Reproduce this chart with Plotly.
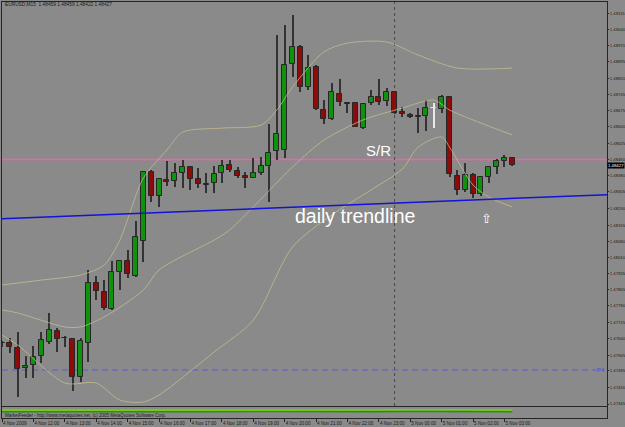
import plotly.graph_objects as go
import pandas as pd

# ---------------- data ----------------
times = pd.date_range("2009-11-04 11:00", periods=66, freq="15min")

opens = [1.47621, 1.47621, 1.47598, 1.47508, 1.47522, 1.47562, 1.47626, 1.47676, 1.47644, 1.47639,
         1.47467, 1.47621, 1.47893, 1.47852, 1.47775, 1.47943, 1.47992, 1.47924, 1.48083, 1.48395,
         1.48287, 1.48359, 1.48355, 1.48391, 1.48418, 1.48364, 1.48336, 1.48345, 1.48391, 1.48427,
         1.48400, 1.48377, 1.48368, 1.48391, 1.48422, 1.48490, 1.48495, 1.48884, 1.48961, 1.48780,
         1.48871, 1.48676, 1.48635, 1.48748, 1.48708, 1.48708, 1.48594, 1.48708, 1.48735, 1.48717,
         1.48757, 1.48667, 1.48653, 1.48646, 1.48649, 1.48685, 1.48681, 1.48735, 1.48377, 1.48314,
         1.48382, 1.48296, 1.48373, 1.48418, 1.48445, 1.48459]
highs = [1.47630, 1.47644, 1.47671, 1.47562, 1.47608, 1.47671, 1.47757, 1.47689, 1.47653, 1.47644,
         1.47644, 1.47952, 1.47924, 1.47906, 1.47992, 1.47995, 1.48042, 1.48173, 1.48400, 1.48404,
         1.48366, 1.48445, 1.48436, 1.48450, 1.48420, 1.48413, 1.48391, 1.48422, 1.48450, 1.48450,
         1.48418, 1.48395, 1.48459, 1.48463, 1.48613, 1.49016, 1.49061, 1.49106, 1.48970, 1.48925,
         1.48880, 1.48721, 1.48798, 1.48816, 1.48710, 1.48710, 1.48705, 1.48767, 1.48816, 1.48776,
         1.48760, 1.48690, 1.48662, 1.48685, 1.48721, 1.48708, 1.48744, 1.48738, 1.48404, 1.48436,
         1.48391, 1.48375, 1.48418, 1.48454, 1.48472, 1.48459]
lows = [1.47603, 1.47576, 1.47377, 1.47463, 1.47463, 1.47531, 1.47617, 1.47580, 1.47603, 1.47404,
        1.47445, 1.47535, 1.47816, 1.47771, 1.47771, 1.47861, 1.47915, 1.47920, 1.47988, 1.48259,
        1.48237, 1.48332, 1.48327, 1.48323, 1.48314, 1.48323, 1.48300, 1.48300, 1.48345, 1.48395,
        1.48368, 1.48323, 1.48366, 1.48382, 1.48259, 1.48450, 1.48459, 1.48825, 1.48757, 1.48767,
        1.48676, 1.48613, 1.48633, 1.48694, 1.48662, 1.48597, 1.48592, 1.48699, 1.48699, 1.48694,
        1.48660, 1.48644, 1.48640, 1.48572, 1.48581, 1.48594, 1.48662, 1.48373, 1.48291, 1.48305,
        1.48278, 1.48287, 1.48345, 1.48386, 1.48418, 1.48422]
closes = [1.47619, 1.47603, 1.47503, 1.47517, 1.47558, 1.47635, 1.47680, 1.47639, 1.47643, 1.47467,
          1.47630, 1.47893, 1.47857, 1.47780, 1.47943, 1.47992, 1.47934, 1.48101, 1.48395, 1.48287,
          1.48364, 1.48350, 1.48391, 1.48418, 1.48364, 1.48341, 1.48341, 1.48386, 1.48422, 1.48404,
          1.48377, 1.48368, 1.48391, 1.48422, 1.48481, 1.48567, 1.48880, 1.48961, 1.48780, 1.48866,
          1.48681, 1.48635, 1.48757, 1.48712, 1.48703, 1.48599, 1.48703, 1.48735, 1.48712, 1.48757,
          1.48662, 1.48658, 1.48644, 1.48651, 1.48685, 1.48685, 1.48735, 1.48386, 1.48314, 1.48382,
          1.48296, 1.48373, 1.48418, 1.48445, 1.48459, 1.48427]

# Bollinger bands (read at sample bars)
bb_upper_x = [0, 5, 10, 13, 15, 18, 21, 23, 28, 33, 35, 37, 41, 44, 49, 53, 58, 65]
bb_upper = [1.47884, 1.47906, 1.47929, 1.47974, 1.48087, 1.48368, 1.48495, 1.48576, 1.48594, 1.48608,
            1.48676, 1.48780, 1.48939, 1.48979, 1.48984, 1.48925, 1.48866, 1.48866]
bb_mid_x = [0, 2, 8, 10, 13, 18, 20, 27, 29, 37, 41, 46, 51, 55, 57, 61, 65]
bb_mid = [1.47771, 1.47757, 1.47694, 1.47694, 1.47739, 1.47861, 1.47952, 1.48087, 1.48133, 1.48418,
          1.48540, 1.48631, 1.48685, 1.48721, 1.48676, 1.48617, 1.48563]
bb_lower_x = [0, 2, 8, 12, 15, 18, 20, 27, 32, 37, 42, 47, 51, 53, 56, 57, 60, 62, 65]
bb_lower = [1.47657, 1.47612, 1.47440, 1.47440, 1.47363, 1.47354, 1.47386, 1.47580, 1.47725, 1.48056,
            1.48201, 1.48314, 1.48409, 1.48508, 1.48554, 1.48508, 1.48336, 1.48282, 1.48237]

sr_level = 1.48452
pivot_level = 1.47499
trend_x = [-0.2, 77.2]
trend_y = [1.48183, 1.48293]
separator_bar = 50
last_price = 1.48427

price_ticks = [1.47345, 1.47420, 1.47495, 1.47565, 1.47640, 1.47715, 1.47790, 1.47865, 1.47935,
               1.48010, 1.48080, 1.48155, 1.48230, 1.48305, 1.48380, 1.48450, 1.48525, 1.48600,
               1.48675, 1.48745, 1.48820, 1.48895, 1.48970, 1.49040, 1.49115]
price_tick_labels = [f"{v:.5f}" for v in price_ticks]

time_tick_bars = list(range(0, 66, 4))
time_tick_labels = ["4 Nov 2009"] + [f"{t.day} {t.strftime('%b %H:%M')}" for t in times[4::4]]

sub_x = [0, 8, 16, 20, 26, 36, 44, 47, 52, 58, 65]
sub_lime = [0.72, 0.70, 0.72, 0.70, 0.72, 0.72, 0.70, 0.74, 0.74, 0.74, 0.72]
sub_dark = [0.60, 0.58, 0.60, 0.56, 0.60, 0.62, 0.58, 0.60, 0.62, 0.60, 0.60]

# ---------------- styling ----------------
BG = "#8a8a8a"
GREEN = "#0f930f"
RED = "#8e0b0b"
WICK = "#333333"
BAND = "#c9c08f"
AXIS = "#262626"
DOJI = "#e8e8e8"
FONT = "Arial"

n = len(opens)
xs = list(range(n))
body_colors, wick_colors, heights = [], [], []
for o, c in zip(opens, closes):
    if c > o:
        body_colors.append(GREEN); wick_colors.append(WICK); heights.append(c - o)
    elif c < o:
        body_colors.append(RED); wick_colors.append(WICK); heights.append(c - o)
    else:
        body_colors.append(DOJI); wick_colors.append(DOJI); heights.append(0.00002)
line_colors = [AXIS if col != DOJI else DOJI for col in body_colors]

fig = go.Figure()

# bands
for bx, by in [(bb_upper_x, bb_upper), (bb_mid_x, bb_mid), (bb_lower_x, bb_lower)]:
    fig.add_trace(go.Scatter(x=bx, y=by, mode="lines", line=dict(color=BAND, width=1, shape="spline", smoothing=0.8),
                             opacity=0.75, hoverinfo="skip", showlegend=False))

# wicks
fig.add_trace(go.Bar(x=xs, y=[h - l for h, l in zip(highs, lows)], base=lows, width=0.13,
                     marker=dict(color=wick_colors, line=dict(width=0)), showlegend=False, hoverinfo="skip"))
# bodies
fig.add_trace(go.Bar(x=xs, y=heights, base=opens, width=0.64,
                     marker=dict(color=body_colors, line=dict(color=line_colors, width=1)),
                     showlegend=False, hoverinfo="skip"))

# trend line
fig.add_trace(go.Scatter(x=trend_x, y=trend_y, mode="lines", line=dict(color="#1212d8", width=1.5),
                         showlegend=False, hoverinfo="skip"))

# sub window indicator
fig.add_trace(go.Scatter(x=sub_x, y=sub_dark, mode="lines", line=dict(color="#2c8c1c", width=2),
                         xaxis="x2", yaxis="y2", showlegend=False, hoverinfo="skip"))
fig.add_trace(go.Scatter(x=sub_x, y=sub_lime, mode="lines", line=dict(color="#7ee000", width=1.2),
                         xaxis="x2", yaxis="y2", showlegend=False, hoverinfo="skip"))

W, H = 625, 427
ML, MR, MT, MB = 2, 18, 2, 9
PH = H - MT - MB
x_range = [-0.01, 77.06]
main_bottom = (H - MB - 406) / PH
sub_top = (H - MB - 407) / PH

shapes = [
    dict(type="line", xref="paper", x0=0, x1=1, yref="y", y0=sr_level, y1=sr_level,
         line=dict(color="#ff5aae", width=1.3), layer="below"),
    dict(type="line", xref="x", x0=x_range[0], x1=75.8, yref="y", y0=pivot_level, y1=pivot_level,
         line=dict(color="#5a5ad2", width=1.2, dash="6px,4px"), layer="below"),
    dict(type="line", xref="x", x0=separator_bar, x1=separator_bar, yref="paper", y0=main_bottom, y1=1,
         line=dict(color="#4a4a4a", width=1, dash="dot"), layer="below"),
]

annotations = [
    dict(xref="paper", yref="paper", x=0.0017, y=(H - MB - 5) / PH, xanchor="left", yanchor="middle",
         text="EURUSD,M15  1.48459 1.48459 1.48422 1.48427", showarrow=False,
         font=dict(family=FONT, size=4.8, color="#1a1a1a")),
    dict(xref="x", yref="y", x=48.0, y=1.48493, text="S/R", showarrow=False,
         font=dict(family=FONT, size=15, color="white")),
    dict(xref="x", yref="y", x=45.0, y=1.48196, text="daily trendline", showarrow=False,
         font=dict(family=FONT, size=19.5, color="white")),
    dict(xref="x", yref="y", x=61.7, y=1.48187, text="⇧", showarrow=False,
         font=dict(family="DejaVu Sans", size=13, color="white")),
    dict(xref="paper", yref="y", x=0.9995, y=pivot_level, xanchor="right", yanchor="middle", text="P4",
         showarrow=False, font=dict(family=FONT, size=6, color="#4646e0")),
    dict(xref="paper", yref="y", x=1.0, y=last_price, xanchor="left", yanchor="middle", text="1.48427",
         showarrow=False, bgcolor="black", borderpad=0, font=dict(family=FONT, size=4.3, color="white")),
    dict(xref="paper", yref="paper", x=0.0017, y=(H - MB - 415) / PH, xanchor="left", yanchor="middle",
         text="MarketFeeder - http://www.metaquotes.net, (c) 2005 MetaQuotes Software Corp.", showarrow=False,
         font=dict(family=FONT, size=4.5, color="#1a1a1a")),
]

fig.update_layout(
    width=W, height=H, margin=dict(l=ML, r=MR, t=MT, b=MB, autoexpand=False),
    paper_bgcolor=BG, plot_bgcolor=BG, barmode="overlay", bargap=0,
    showlegend=False, shapes=shapes, annotations=annotations,
    font=dict(family=FONT, color=AXIS),
    xaxis=dict(range=x_range, domain=[0, 1], anchor="y", showgrid=False, zeroline=False, automargin=False,
               showticklabels=False, ticks="", showline=True, linecolor=AXIS, linewidth=1, mirror=True),
    yaxis=dict(range=[1.47336, 1.49165], domain=[main_bottom, 1], side="right", anchor="x", automargin=False,
               tickvals=price_ticks, ticktext=price_tick_labels, ticks="outside", ticklen=1,
               tickcolor=AXIS, tickfont=dict(size=4.2, color="#1a1a1a", family=FONT),
               showgrid=False, zeroline=False, showline=True, linecolor=AXIS, linewidth=1, mirror=True),
    xaxis2=dict(range=x_range, domain=[0, 1], anchor="y2", matches="x", showgrid=False, zeroline=False,
                automargin=False, tickangle=0,
                tickvals=time_tick_bars, ticktext=time_tick_labels, ticks="outside", ticklen=3,
                tickcolor=AXIS, ticklabelposition="outside right",
                tickfont=dict(size=4.6, color="#1a1a1a", family=FONT),
                showline=True, linecolor=AXIS, linewidth=1, mirror=True),
    yaxis2=dict(range=[0, 1], domain=[0, sub_top], anchor="x2", side="right", showticklabels=False,
                automargin=False,
                ticks="", showgrid=False, zeroline=False, showline=True, linecolor=AXIS, linewidth=1, mirror=True),
)

fig.write_html("out.html")
